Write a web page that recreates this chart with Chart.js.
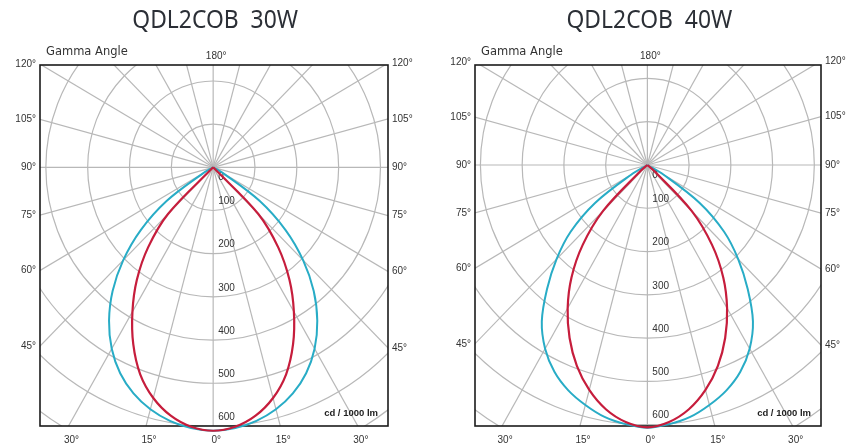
<!DOCTYPE html>
<html>
<head>
<meta charset="utf-8">
<script src="https://cdn.jsdelivr.net/npm/chart.js@4.4.1/dist/chart.umd.min.js"></script>
<style>
    body { margin: 0; background: #fff; }
    #wrap { display: flex; width: 850px; height: 446px; }
    .cell { position: relative; width: 425px; height: 446px; }
</style>
</head>
<body>
<div id="wrap">
    <div class="cell"><canvas id="chart30"></canvas></div>
    <div class="cell"><canvas id="chart40"></canvas></div>
</div>
<script>
"use strict";

/* gamma angles (deg from nadir) and intensities in cd / 1000 lm. */
const gammaAngles = [0, 5, 10, 15, 20, 25, 30, 35, 40, 45, 50, 55, 60, 65, 70, 75, 80, 85, 90];
const red30 = [610, 603, 584, 553, 510, 452, 386, 318, 242, 152, 0, 0, 0, 0, 0, 0, 0, 0, 0];
const cyan30 = [610, 606, 596, 580, 557, 526, 485, 434, 374, 304, 226, 136, 30, 0, 0, 0, 0, 0, 0];
const red40 = [606, 596, 573, 538, 494, 441, 382, 317, 241, 150, 20, 0, 0, 0, 0, 0, 0, 0, 0];
const cyan40 = [607, 601, 591, 574, 554, 527, 490, 441, 374, 308, 240, 153, 45, 0, 0, 0, 0, 0, 0];

const ringValues = [100, 200, 300, 400, 500, 600, 700];
const ringLabels = ['0', '100', '200', '300', '400', '500', '600'];
const sideAngles = [45, 60, 75, 90, 105, 120];
const bottomAngles = [-30, -15, 0, 15, 30];
const titles = ['QDL2COB  30W', 'QDL2COB  40W'];
const unitLabel = 'cd / 1000 lm';

const RED = '#c61d3c';
const CYAN = '#28acc6';

/* polar (gamma, intensity) to chart units, 0 deg pointing down. */
const toXY = (angle, value, side) => {
    const a = angle * Math.PI / 180;
    return { x: side * value * Math.sin(a), y: -value * Math.cos(a) };
};

/* walks the left half from the centre down to nadir, then back up the right half. */
const buildCurve = (values) => {
    let end = values.findIndex(v => v === 0);
    if (end < 0) end = values.length - 1;
    const pts = [];
    for (let i = end; i >= 0; i--) pts.push(toXY(gammaAngles[i], values[i], -1));
    for (let i = 1; i <= end; i++) pts.push(toXY(gammaAngles[i], values[i], 1));
    return pts;
};

const txt = (ctx, s, x, y, font, color, align) => {
    ctx.font = font;
    ctx.fillStyle = color;
    ctx.textAlign = align || 'center';
    ctx.textBaseline = 'middle';
    ctx.fillText(s, x, y);
};

/* grid, frame and labels of the photometric diagram. */
const polarFrame = {
    id: 'polarFrame',
    beforeDatasetsDraw(chart) {
        const { ctx, chartArea: a, scales: { x, y } } = chart;
        const cx = x.getPixelForValue(0), cy = y.getPixelForValue(0);

        ctx.save();
        ctx.beginPath();
        ctx.rect(a.left, a.top, a.width, a.height);
        ctx.clip();
        ctx.strokeStyle = '#b8b8b8';
        ctx.lineWidth = 1.2;
        ringValues.forEach(r => {
            const rx = x.getPixelForValue(r) - cx;
            const ry = cy - y.getPixelForValue(r);
            ctx.beginPath();
            ctx.ellipse(cx, cy, rx, ry, 0, 0, 2 * Math.PI);
            ctx.stroke();
        });
        for (let g = 0; g < 360; g += 15) {
            const p = toXY(g, 3000, 1);
            ctx.beginPath();
            ctx.moveTo(cx, cy);
            ctx.lineTo(x.getPixelForValue(p.x), y.getPixelForValue(p.y));
            ctx.stroke();
        }
        ctx.restore();

        // frame
        ctx.save();
        ctx.strokeStyle = '#1b1b1b';
        ctx.lineWidth = 1.6;
        ctx.strokeRect(a.left, a.top, a.width, a.height);
        ctx.restore();

        // intensity labels along the nadir axis
        ctx.save();
        ringLabels.forEach((s, i) => {
            const v = i * 100;
            const py = v === 0 ? cy + 10 : y.getPixelForValue(-v) - 9;
            txt(ctx, s, cx + 5, py, '10px "Liberation Sans", Arial, sans-serif', '#333', 'left');
        });
        ctx.restore();
    },
    afterDraw(chart, args, opts) {
        const { ctx, chartArea: a, scales: { x, y } } = chart;
        const cx = x.getPixelForValue(0);
        const small = '10px "Liberation Sans", Arial, sans-serif';
        ctx.save();

        // title
        ctx.save();
        ctx.translate(cx + 2, 21);
        ctx.scale(0.88, 1);
        txt(ctx, opts.title, 0, 0, '26px "Noto Sans", sans-serif', '#2b2f36');
        ctx.restore();

        txt(ctx, 'Gamma Angle', a.left + 6, a.top - 13, '11.5px "DejaVu Sans", sans-serif', '#333', 'left');
        txt(ctx, '180°', cx + 3, a.top - 9, small, '#333');

        // side labels where each ray meets the frame
        sideAngles.forEach(g => {
            const r = g * Math.PI / 180;
            const yl = x.min * Math.cos(r) / Math.sin(r);
            const yr = -x.max * Math.cos(r) / Math.sin(r);
            txt(ctx, `${g}°`, a.left - 4, y.getPixelForValue(yl), small, '#333', 'right');
            txt(ctx, `${g}°`, a.right + 4, y.getPixelForValue(yr), small, '#333', 'left');
        });

        bottomAngles.forEach(g => {
            const r = Math.abs(g) * Math.PI / 180;
            const xv = Math.sign(g) * (-y.min) * Math.tan(r);
            txt(ctx, `${Math.abs(g)}°`, x.getPixelForValue(xv) + 3, a.bottom + 14, small, '#333');
        });

        txt(ctx, unitLabel, a.right - 10, a.bottom - 13, 'bold 9.5px "Liberation Sans", Arial, sans-serif', '#222', 'right');
        ctx.restore();
    }
};

const makeChart = (id, title, redValues, cyanValues, xRange, yRange, padding) => new Chart(document.getElementById(id), {
    type: 'scatter',
    data: {
        datasets: [
            {
                data: buildCurve(redValues),
                showLine: true,
                borderColor: RED,
                borderWidth: 2.2,
                pointRadius: 0,
                tension: 0.35,
                clip: false,
            },
            {
                data: buildCurve(cyanValues),
                showLine: true,
                borderColor: CYAN,
                borderWidth: 2,
                pointRadius: 0,
                tension: 0.35,
                clip: false,
            }
        ]
    },
    options: {
        responsive: true,
        maintainAspectRatio: false,
        animation: false,
        events: [],
        layout: { padding: padding },
        scales: {
            x: { type: 'linear', min: xRange[0], max: xRange[1], display: false },
            y: { type: 'linear', min: yRange[0], max: yRange[1], display: false }
        },
        plugins: {
            legend: { display: false },
            tooltip: { enabled: false },
            polarFrame: { title: title }
        }
    },
    plugins: [polarFrame]
});

makeChart('chart30', titles[0], red30, cyan30, [-414, 418], [-599, 237], { left: 40, right: 37, top: 65, bottom: 20 });
makeChart('chart40', titles[1], red40, cyan40, [-413, 416], [-603, 231], { left: 50, right: 29, top: 65, bottom: 20 });
</script>
</body>
</html>
